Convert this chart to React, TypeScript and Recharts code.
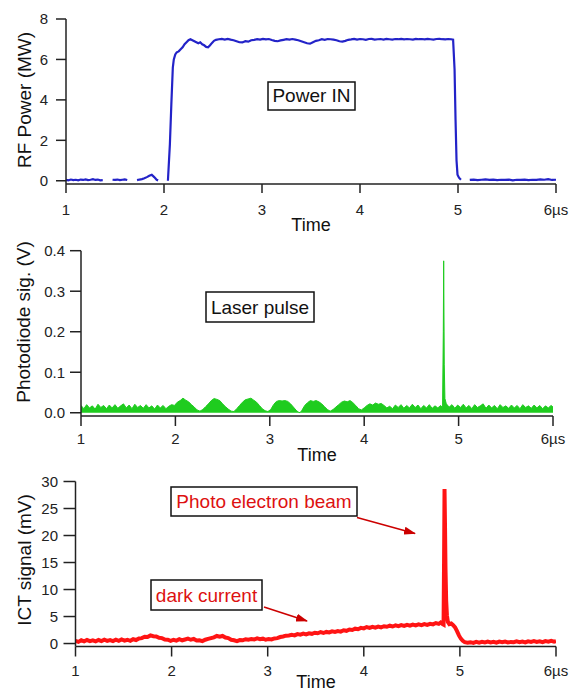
import React from 'react';
import { LineChart, Line, AreaChart, Area, XAxis, YAxis } from 'recharts';

// ---------- ticks ----------
const timeTicks = [1, 2, 3, 4, 5, 6];
const rfPowerTicks = [0, 2, 4, 6, 8];
const photodiodeTicks = [0, 0.1, 0.2, 0.3, 0.4];
const ictTicks = [0, 5, 10, 15, 20, 25, 30];

// ---------- RF power (MW) vs time (µs) ----------
const rfPower: [number, number | null][] = [
  [1.0, 0.05], [1.025, 0.02], [1.05, 0.06], [1.075, 0.03], [1.1, 0.05], [1.125, 0.02], [1.15, 0.06],
  [1.175, 0.04], [1.2, 0.07], [1.225, 0.03], [1.25, 0.05], [1.275, 0.08], [1.3, 0.04], [1.325, 0.06],
  [1.35, 0.02], [1.375, 0.03], [1.4, null], [1.425, 0.02], [1.45, null], [1.475, 0.05], [1.5, 0.04],
  [1.525, 0.06], [1.55, 0.03], [1.575, 0.05], [1.6, 0.07], [1.625, 0.04], [1.65, null], [1.7, null],
  [1.725, 0.03], [1.75, 0.06], [1.775, 0.08], [1.8, 0.12], [1.825, 0.18], [1.85, 0.25], [1.875, 0.3],
  [1.9, 0.18], [1.925, 0.05], [1.94, 0.02], [1.96, null], [2.0, null], [2.04, 0.0], [2.06, 1.8],
  [2.075, 3.8], [2.09, 5.6], [2.1, 6.0], [2.115, 6.25], [2.13, 6.35], [2.15, 6.4], [2.17, 6.5],
  [2.19, 6.6], [2.21, 6.75], [2.23, 6.85], [2.25, 6.95], [2.27, 7.0], [2.29, 6.95], [2.31, 6.9],
  [2.33, 6.85], [2.35, 6.8], [2.37, 6.85], [2.39, 6.75], [2.41, 6.7], [2.43, 6.62], [2.45, 6.6],
  [2.47, 6.7], [2.49, 6.82], [2.51, 6.92], [2.53, 6.97], [2.56, 7.0], [2.59, 7.02], [2.62, 6.98],
  [2.65, 7.02], [2.68, 6.98], [2.71, 6.95], [2.74, 6.9], [2.77, 6.85], [2.8, 6.84], [2.83, 6.9],
  [2.86, 6.88], [2.89, 6.95], [2.92, 6.97], [2.95, 7.0], [2.98, 6.98], [3.01, 7.02], [3.04, 6.99],
  [3.07, 7.01], [3.1, 6.96], [3.13, 6.92], [3.16, 6.9], [3.19, 6.94], [3.22, 6.97], [3.25, 7.0],
  [3.28, 6.98], [3.31, 7.01], [3.34, 6.98], [3.37, 6.95], [3.4, 6.9], [3.43, 6.85], [3.46, 6.8],
  [3.49, 6.78], [3.52, 6.85], [3.55, 6.92], [3.58, 6.95], [3.61, 7.0], [3.64, 6.97], [3.67, 7.01],
  [3.7, 7.0], [3.73, 6.98], [3.76, 6.95], [3.79, 6.9], [3.82, 6.88], [3.85, 6.92], [3.88, 6.97],
  [3.91, 6.99], [3.94, 7.02], [3.97, 6.98], [4.0, 7.01], [4.03, 7.0], [4.06, 6.97], [4.09, 7.01],
  [4.12, 7.02], [4.15, 6.98], [4.18, 7.0], [4.21, 7.01], [4.24, 6.98], [4.27, 7.02], [4.3, 7.0],
  [4.33, 6.98], [4.36, 7.01], [4.39, 7.0], [4.42, 7.02], [4.45, 6.99], [4.48, 7.01], [4.51, 7.0],
  [4.54, 6.98], [4.57, 7.02], [4.6, 7.0], [4.63, 7.01], [4.66, 6.99], [4.69, 7.02], [4.72, 7.0],
  [4.75, 6.98], [4.78, 7.01], [4.81, 7.02], [4.84, 7.0], [4.87, 6.99], [4.9, 7.01], [4.93, 7.0],
  [4.95, 6.98], [4.965, 5.5], [4.975, 3.0], [4.985, 1.0], [4.995, 0.3], [5.01, 0.15], [5.03, 0.05],
  [5.045, null], [5.075, null], [5.12, 0.04], [5.16, 0.06], [5.2, 0.03], [5.24, 0.05], [5.28, 0.07],
  [5.32, 0.04], [5.36, 0.06], [5.4, 0.03], [5.44, 0.05], [5.48, 0.04], [5.52, 0.06], [5.56, 0.02],
  [5.6, 0.05], [5.64, 0.04], [5.68, 0.06], [5.72, 0.03], [5.76, 0.05], [5.8, 0.04], [5.84, 0.07],
  [5.88, 0.05], [5.92, 0.08], [5.96, 0.04], [6.0, 0.05],
];

// ---------- Photodiode signal (V) vs time (µs) ----------
const photodiode: [number, number][] = [
  [1.0, 0.018], [1.03, 0.01], [1.06, 0.02], [1.09, 0.012], [1.12, 0.017], [1.15, 0.009], [1.18, 0.021],
  [1.21, 0.013], [1.24, 0.018], [1.27, 0.01], [1.3, 0.019], [1.33, 0.012], [1.36, 0.02], [1.39, 0.011],
  [1.42, 0.017], [1.45, 0.022], [1.48, 0.012], [1.51, 0.019], [1.54, 0.01], [1.57, 0.021], [1.6, 0.013],
  [1.63, 0.018], [1.66, 0.011], [1.69, 0.02], [1.72, 0.012], [1.75, 0.017], [1.78, 0.009], [1.81, 0.019],
  [1.84, 0.012], [1.87, 0.018], [1.9, 0.01], [1.93, 0.016], [1.96, 0.02], [1.99, 0.018], [2.02, 0.026],
  [2.05, 0.03], [2.08, 0.036], [2.11, 0.031], [2.14, 0.027], [2.17, 0.02], [2.2, 0.014], [2.23, 0.007],
  [2.26, 0.004], [2.29, 0.008], [2.32, 0.015], [2.35, 0.022], [2.38, 0.03], [2.41, 0.035], [2.44, 0.033],
  [2.47, 0.03], [2.5, 0.022], [2.53, 0.015], [2.56, 0.009], [2.59, 0.004], [2.62, 0.003], [2.65, 0.01],
  [2.68, 0.018], [2.71, 0.026], [2.74, 0.032], [2.77, 0.034], [2.8, 0.036], [2.83, 0.031], [2.86, 0.026],
  [2.89, 0.018], [2.92, 0.01], [2.95, 0.005], [2.98, 0.003], [3.01, 0.008], [3.04, 0.02], [3.07, 0.028],
  [3.1, 0.03], [3.13, 0.029], [3.16, 0.03], [3.19, 0.028], [3.22, 0.022], [3.25, 0.014], [3.28, 0.006],
  [3.3, 0.002], [3.32, 0.0], [3.34, 0.006], [3.37, 0.018], [3.4, 0.025], [3.43, 0.03], [3.46, 0.028],
  [3.49, 0.03], [3.52, 0.027], [3.55, 0.022], [3.58, 0.015], [3.61, 0.008], [3.64, 0.004], [3.67, 0.008],
  [3.7, 0.014], [3.73, 0.02], [3.76, 0.026], [3.79, 0.029], [3.82, 0.027], [3.85, 0.03], [3.88, 0.025],
  [3.91, 0.018], [3.94, 0.01], [3.97, 0.007], [4.0, 0.012], [4.03, 0.018], [4.06, 0.022], [4.09, 0.019],
  [4.12, 0.024], [4.15, 0.021], [4.18, 0.023], [4.21, 0.018], [4.24, 0.012], [4.27, 0.016], [4.3, 0.01],
  [4.33, 0.019], [4.36, 0.013], [4.39, 0.02], [4.42, 0.011], [4.45, 0.018], [4.48, 0.012], [4.51, 0.021],
  [4.54, 0.013], [4.57, 0.019], [4.6, 0.01], [4.63, 0.018], [4.66, 0.012], [4.69, 0.02], [4.72, 0.011],
  [4.75, 0.017], [4.78, 0.012], [4.81, 0.018], [4.83, 0.012], [4.838, 0.2], [4.842, 0.375], [4.848, 0.12],
  [4.855, 0.035], [4.87, 0.022], [4.9, 0.014], [4.93, 0.02], [4.96, 0.011], [4.99, 0.019], [5.02, 0.013],
  [5.05, 0.021], [5.08, 0.012], [5.11, 0.018], [5.14, 0.01], [5.17, 0.02], [5.2, 0.013], [5.23, 0.017],
  [5.26, 0.022], [5.29, 0.011], [5.32, 0.019], [5.35, 0.012], [5.38, 0.018], [5.41, 0.01], [5.44, 0.02],
  [5.47, 0.013], [5.5, 0.017], [5.53, 0.011], [5.56, 0.019], [5.59, 0.012], [5.62, 0.018], [5.65, 0.01],
  [5.68, 0.02], [5.71, 0.013], [5.74, 0.017], [5.77, 0.011], [5.8, 0.019], [5.83, 0.012], [5.86, 0.018],
  [5.89, 0.01], [5.92, 0.017], [5.95, 0.012], [5.98, 0.018], [6.0, 0.014],
];

// ---------- ICT signal (mV) vs time (µs) ----------
const ictSignal: [number, number][] = [
  [1.0, 0.5], [1.03, 0.3], [1.06, 0.6], [1.09, 0.4], [1.12, 0.65], [1.15, 0.45], [1.18, 0.6], [1.21, 0.4],
  [1.24, 0.65], [1.27, 0.45], [1.3, 0.7], [1.33, 0.5], [1.36, 0.65], [1.39, 0.45], [1.42, 0.7], [1.45, 0.5],
  [1.48, 0.75], [1.51, 0.55], [1.54, 0.7], [1.57, 0.5], [1.6, 0.8], [1.63, 0.65], [1.66, 0.95], [1.69, 1.0],
  [1.72, 1.25], [1.75, 1.2], [1.78, 1.5], [1.81, 1.35], [1.84, 1.3], [1.87, 1.05], [1.9, 1.0], [1.93, 0.75],
  [1.96, 0.7], [1.99, 0.5], [2.02, 0.7], [2.05, 0.55], [2.08, 0.8], [2.11, 0.6], [2.14, 0.75], [2.17, 0.9],
  [2.2, 0.7], [2.23, 0.85], [2.26, 0.55], [2.29, 0.6], [2.32, 0.45], [2.35, 0.7], [2.38, 0.85], [2.41, 1.0],
  [2.44, 1.15], [2.47, 1.4], [2.5, 1.25], [2.53, 1.4], [2.56, 1.1], [2.59, 1.0], [2.62, 0.7], [2.65, 0.6],
  [2.68, 0.45], [2.71, 0.65], [2.74, 0.6], [2.77, 0.8], [2.8, 0.7], [2.83, 0.85], [2.86, 0.75], [2.89, 0.95],
  [2.92, 0.8], [2.95, 0.9], [2.98, 0.7], [3.01, 0.85], [3.04, 0.75], [3.07, 0.95], [3.1, 1.0], [3.13, 1.2],
  [3.16, 1.3], [3.19, 1.45], [3.22, 1.5], [3.25, 1.6], [3.28, 1.5], [3.31, 1.75], [3.34, 1.65], [3.37, 1.85],
  [3.4, 1.7], [3.43, 1.9], [3.46, 1.8], [3.49, 2.0], [3.52, 1.9], [3.55, 2.1], [3.58, 1.95], [3.61, 2.15],
  [3.64, 2.05], [3.67, 2.25], [3.7, 2.15], [3.73, 2.3], [3.76, 2.2], [3.79, 2.45], [3.82, 2.35], [3.85, 2.6],
  [3.88, 2.5], [3.91, 2.75], [3.94, 2.65], [3.97, 2.9], [4.0, 2.8], [4.03, 3.05], [4.06, 2.9], [4.09, 3.1],
  [4.12, 2.95], [4.15, 3.15], [4.18, 3.0], [4.21, 3.2], [4.24, 3.1], [4.27, 3.3], [4.3, 3.15], [4.33, 3.35],
  [4.36, 3.2], [4.39, 3.4], [4.42, 3.25], [4.45, 3.45], [4.48, 3.3], [4.51, 3.5], [4.54, 3.35], [4.57, 3.55],
  [4.6, 3.4], [4.63, 3.6], [4.66, 3.45], [4.69, 3.65], [4.72, 3.55], [4.75, 3.8], [4.78, 3.65], [4.8, 3.9],
  [4.82, 3.6], [4.83, 3.5], [4.835, 15.0], [4.84, 28.6], [4.845, 22.0], [4.85, 14.0], [4.857, 8.0],
  [4.865, 5.2], [4.875, 4.0], [4.89, 3.6], [4.91, 3.7], [4.93, 3.4], [4.95, 3.0], [4.97, 2.3], [4.99, 1.5],
  [5.01, 0.9], [5.03, 0.5], [5.05, 0.25], [5.08, 0.15], [5.11, 0.25], [5.14, 0.1], [5.17, 0.3], [5.2, 0.15],
  [5.23, 0.3], [5.26, 0.2], [5.29, 0.35], [5.32, 0.2], [5.35, 0.3], [5.38, 0.15], [5.41, 0.35], [5.44, 0.25],
  [5.47, 0.35], [5.5, 0.2], [5.53, 0.3], [5.56, 0.25], [5.59, 0.4], [5.62, 0.25], [5.65, 0.35], [5.68, 0.2],
  [5.71, 0.4], [5.74, 0.3], [5.77, 0.45], [5.8, 0.3], [5.83, 0.4], [5.86, 0.25], [5.89, 0.45], [5.92, 0.35],
  [5.95, 0.5], [5.98, 0.35], [6.0, 0.45],
];

const toRows = (pts: [number, number | null][]) => pts.map(([t, v]) => ({ t, v }));
const rfRows = toRows(rfPower);
const pdRows = toRows(photodiode);
const ictRows = toRows(ictSignal);

const FONT = '"Liberation Sans", Arial, Helvetica, sans-serif';
const fmtTime = (v: number) => (v === 6 ? '6µs' : String(v));
const axisStyle = { stroke: '#222', strokeWidth: 1.5 };
const tickStyle = { fill: '#222', fontSize: 15, fontFamily: FONT };

const BLUE = '#2323c8';
const GREEN = '#1fcc1f';
const RED = '#ff1414';
const TEXT_RED = '#dd1111';

export default function App() {
  return (
    <div
      style={{
        position: 'absolute',
        left: 0,
        top: 0,
        width: 569,
        height: 693,
        background: '#fff',
        fontFamily: FONT,
        overflow: 'hidden',
      }}
    >
      {/* Top panel: RF power */}
      <div style={{ position: 'absolute', left: 0, top: 0 }}>
        <LineChart width={569} height={240} data={rfRows} margin={{ top: 19, right: 13, bottom: 0, left: 0 }}>
          <XAxis
            dataKey="t"
            type="number"
            domain={[1, 6]}
            ticks={timeTicks}
            allowDataOverflow
            interval={0}
            height={56}
            tickSize={9}
            tickMargin={11}
            tickFormatter={fmtTime}
            axisLine={axisStyle}
            tickLine={axisStyle}
            tick={tickStyle}
          />
          <YAxis
            type="number"
            domain={[-0.16, 8]}
            ticks={rfPowerTicks}
            allowDataOverflow
            interval={0}
            width={66}
            tickSize={10}
            tickMargin={8}
            axisLine={axisStyle}
            tickLine={axisStyle}
            tick={tickStyle}
          />
          <Line type="linear" dataKey="v" stroke={BLUE} strokeWidth={2.2} dot={false} isAnimationActive={false} />
        </LineChart>
      </div>

      {/* Middle panel: photodiode */}
      <div style={{ position: 'absolute', left: 0, top: 240 }}>
        <AreaChart width={569} height={220} data={pdRows} margin={{ top: 10.7, right: 16, bottom: 0, left: 0 }}>
          <XAxis
            dataKey="t"
            type="number"
            domain={[1, 6]}
            ticks={timeTicks}
            allowDataOverflow
            interval={0}
            height={44}
            tickSize={10}
            tickMargin={7}
            tickFormatter={fmtTime}
            axisLine={axisStyle}
            tickLine={axisStyle}
            tick={tickStyle}
          />
          <YAxis
            type="number"
            domain={[-0.008, 0.4]}
            ticks={photodiodeTicks}
            allowDataOverflow
            interval={0}
            width={81}
            tickSize={11}
            tickMargin={5}
            tickFormatter={(v: number) => v.toFixed(1)}
            axisLine={axisStyle}
            tickLine={axisStyle}
            tick={tickStyle}
          />
          <Area
            type="linear"
            dataKey="v"
            baseValue={0}
            stroke={GREEN}
            strokeWidth={1}
            fill={GREEN}
            fillOpacity={1}
            dot={false}
            isAnimationActive={false}
          />
        </AreaChart>
      </div>

      {/* Bottom panel: ICT signal */}
      <div style={{ position: 'absolute', left: 0, top: 460 }}>
        <LineChart width={569} height={233} data={ictRows} margin={{ top: 21.5, right: 13, bottom: 0, left: 0 }}>
          <XAxis
            dataKey="t"
            type="number"
            domain={[1, 6]}
            ticks={timeTicks}
            allowDataOverflow
            interval={0}
            height={46.5}
            tickSize={10}
            tickMargin={8.5}
            tickFormatter={fmtTime}
            axisLine={axisStyle}
            tickLine={axisStyle}
            tick={tickStyle}
          />
          <YAxis
            type="number"
            domain={[-0.55, 30]}
            ticks={ictTicks}
            allowDataOverflow
            interval={0}
            width={75.5}
            tickSize={12}
            tickMargin={5.5}
            axisLine={axisStyle}
            tickLine={axisStyle}
            tick={tickStyle}
          />
          <Line type="linear" dataKey="v" stroke={RED} strokeWidth={4} dot={false} isAnimationActive={false} />
        </LineChart>
      </div>

      {/* Titles and annotations */}
      <svg
        width={569}
        height={693}
        style={{ position: 'absolute', left: 0, top: 0, pointerEvents: 'none' }}
        fontFamily={FONT}
      >
        <defs>
          <marker id="arrowRed" viewBox="0 0 12 8" refX="11" refY="4" markerWidth="12" markerHeight="8" markerUnits="userSpaceOnUse" orient="auto">
            <path d="M0,0 L12,4 L0,8 Z" fill="#cc0000" />
          </marker>
        </defs>

        <text transform="translate(31,100) rotate(-90)" textAnchor="middle" fontSize={19} fill="#111">RF Power (MW)</text>
        <text transform="translate(30,322) rotate(-90)" textAnchor="middle" fontSize={19} fill="#111">Photodiode sig. (V)</text>
        <text transform="translate(31,560) rotate(-90)" textAnchor="middle" fontSize={19} fill="#111">ICT signal (mV)</text>

        <text x={311} y={231} textAnchor="middle" fontSize={18} fill="#111">Time</text>
        <text x={317} y={461} textAnchor="middle" fontSize={18} fill="#111">Time</text>
        <text x={316} y={688} textAnchor="middle" fontSize={18} fill="#111">Time</text>

        <rect x={268} y={82} width={87} height={28} fill="#fff" stroke="#111" strokeWidth={1.5} />
        <text x={311.5} y={102} textAnchor="middle" fontSize={19} fill="#111">Power IN</text>

        <rect x={206} y={292} width={108} height={30} fill="#fff" stroke="#111" strokeWidth={1.5} />
        <text x={260} y={314} textAnchor="middle" fontSize={19} fill="#111">Laser pulse</text>

        <rect x={171} y={487} width={186} height={29} fill="#fff" stroke="#111" strokeWidth={1.5} />
        <text x={264} y={508} textAnchor="middle" fontSize={19} fill={TEXT_RED}>Photo electron beam</text>
        <line x1={357} y1={517.5} x2={415} y2={533.5} stroke="#cc0000" strokeWidth={1.6} markerEnd="url(#arrowRed)" />

        <rect x={151} y={580} width={111} height={30} fill="#fff" stroke="#111" strokeWidth={1.5} />
        <text x={206.5} y={602} textAnchor="middle" fontSize={19} fill={TEXT_RED}>dark current</text>
        <line x1={264} y1={607} x2={307} y2={621} stroke="#cc0000" strokeWidth={1.6} markerEnd="url(#arrowRed)" />
      </svg>
    </div>
  );
}
